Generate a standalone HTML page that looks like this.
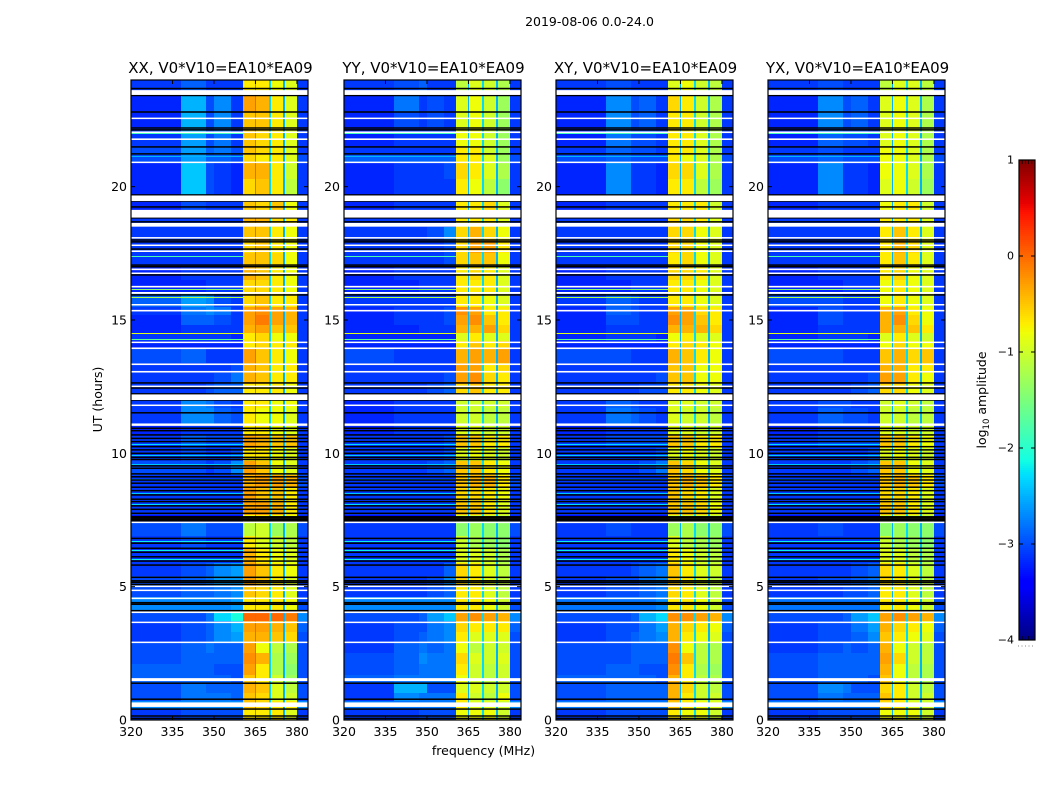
<!DOCTYPE html>
<html><head><meta charset="utf-8"><title>2019-08-06 0.0-24.0</title>
<style>
html,body{margin:0;padding:0;background:#fff}
svg{display:block;font-family:"DejaVu Sans","Liberation Sans",sans-serif}
</style></head>
<body>
<svg id="chart" xmlns="http://www.w3.org/2000/svg" width="1050" height="800" viewBox="0 0 1050 800">
<rect width="1050" height="800" fill="#fff"/>
<text x="589.500" y="26" text-anchor="middle" font-size="12.500" fill="#000">2019-08-06 0.0-24.0</text>
<text x="483.500" y="755" text-anchor="middle" font-size="12.500" fill="#000">frequency (MHz)</text>
<text transform="translate(102,399.500) rotate(-90)" text-anchor="middle" font-size="12.500" fill="#000">UT (hours)</text>
<text transform="translate(986,400) rotate(-90)" text-anchor="middle" font-size="12.500" fill="#000">log<tspan font-size="8.500" dy="3">10</tspan><tspan dy="-3"> amplitude</tspan></text>
<line x1="1018" x2="1035" y1="646" y2="646" stroke="#888" stroke-width="1" stroke-dasharray="1 2.500"/>
</svg>
<script>
const freqEdges = [320,338,347,350,356,360.6,364.7,365.3,370,370.8,375,375.8,380,384];
const timeEdges = [24,23.4,22.8,22.2,21.5,21.2,20.9,20.3,19.7,19,18.5,18,17.5,17,16.5,16,15.5,15.2,14.8,14.5,14.2,13.9,13.4,13,12.6,12.2,11.7,11.1,10.7,10.2,9.7,9.2,8.7,8.2,7.7,7.4,6.9,6.4,5.9,5.4,5,4.6,4.1,3.7,3.3,2.9,2.5,2.1,1.7,1.4,1,0.7,0.4,0];
const xTickLabels = [320,335,350,365,380];
const yTickLabels = [0,5,10,15,20];
const colorbarTicks = [1,0,-1,-2,-3,-4];
const panelTitles = ["XX, V0*V10=EA10*EA09","YY, V0*V10=EA10*EA09","XY, V0*V10=EA10*EA09","YX, V0*V10=EA10*EA09"];
const gapLevels = [15,17,15];
const edgeLevels = [9,9,9,9,9,10,9,9,9,9,9,9,9,9,9,9,9,9,9,9,9,9,9,9,9,9,9,9,9,9,9,10,9,9,8,10,9,9,9,9,9,10,13,11,10,10,10,10,10,10,10,13,9];
// Levels per time row: 10*(log10 amplitude)+40
const xxLow = [9,8,8,9,10,10,8,8,8,9,9,9,9,8,8,11,9,8,8,9,8,10,9,9,9,9,9,8,9,9,10,9,9,9,7,10,9,9,9,10,10,13,10,9,9,10,10,11,11,10,10,13,9];
const xxBlob = [11,15,15,14,14,14,16,16,10,9,9,9,9,9,8,14,12,11,9,9,8,11,9,9,9,13,13,9,11,10,10,9,9,9,7,12,10,9,10,11,11,13,10,10,10,11,11,11,11,12,12,13,10];
const xxMid = [9,10,10,10,11,11,10,10,9,9,9,9,9,9,9,13,13,11,9,9,8,9,9,9,10,12,13,9,10,9,9,9,9,9,7,10,9,9,11,12,11,13,12,11,11,12,11,11,11,11,12,13,10];
const xxHigh = [9,13,13,12,12,11,9,9,9,9,9,9,9,9,9,10,12,10,9,9,8,9,9,10,11,10,11,9,10,9,10,9,9,9,7,10,9,9,13,14,12,13,17,13,13,11,11,10,11,11,12,13,10];
const xxShoulder = [9,9,9,9,10,10,8,8,9,9,9,9,9,9,9,9,9,9,9,8,8,9,10,12,11,9,10,9,10,10,13,9,9,9,7,10,9,9,14,14,13,14,19,15,14,11,11,10,10,11,11,13,10];
const xxA = [33,37,35,35,35,34,36,34,35,36,35,34,35,36,34,34,37,37,36,33,33,37,36,36,33,33,33,33,37,33,37,36,37,37,32,29,33,36,37,37,35,33,40,37,36,37,38,37,35,36,35,35,33];
const xxB = [33,36,35,34,34,33,36,35,34,36,35,35,35,35,34,35,38,39,37,34,34,35,35,35,33,33,32,33,36,33,35,37,35,37,33,30,31,33,35,35,34,33,40,37,36,32,36,33,33,35,34,34,33];
const xxC = [32,33,33,33,33,33,33,33,35,34,33,33,34,33,33,33,37,37,35,32,33,33,33,33,33,32,32,32,35,32,32,37,35,36,32,27,30,32,33,33,33,33,40,36,35,29,28,28,30,31,31,33,33];
const xxD = [31,31,31,31,31,31,30,29,32,33,32,32,32,32,32,33,36,36,35,32,33,32,33,33,32,32,31,31,35,31,31,36,33,33,32,28,29,31,32,31,31,32,39,35,34,28,27,26,27,29,30,33,31];
const yyLow = [9,8,8,8,9,11,8,8,8,9,9,9,9,8,8,9,8,8,8,8,8,10,9,9,9,8,8,8,9,9,9,9,9,9,7,9,9,9,9,9,9,13,10,9,9,9,10,10,11,9,9,12,9];
const yyBlob = [10,12,10,9,9,11,9,9,9,9,9,9,9,9,8,9,9,9,8,8,8,9,9,9,9,9,9,9,9,9,9,9,9,9,7,9,9,9,9,9,9,13,10,10,10,11,11,11,12,15,13,12,9];
const yyMid = [11,9,9,9,9,11,9,9,9,9,9,9,9,9,9,9,9,9,9,8,8,9,9,9,9,9,9,9,9,9,9,9,9,9,7,9,9,9,9,9,9,13,11,10,11,12,13,12,12,15,12,12,10];
const yyHigh = [9,10,10,9,9,11,9,9,9,9,10,9,9,9,9,9,9,9,9,8,8,9,9,9,10,9,9,9,9,9,10,9,9,9,7,9,9,9,9,10,10,13,14,12,12,11,12,12,12,10,12,12,10];
const yyShoulder = [9,9,9,9,9,11,10,9,9,9,13,10,10,9,9,9,10,10,9,8,8,9,9,10,11,9,9,9,10,10,11,9,9,9,7,9,9,9,11,13,11,13,16,13,13,12,12,12,12,10,12,12,10];
const yyA = [29,31,31,32,33,33,34,33,33,33,34,34,34,33,33,33,38,37,36,31,33,36,37,37,34,30,30,31,35,31,35,35,34,35,30,26,30,31,34,34,33,33,37,34,33,32,34,33,32,31,33,33,32];
const yyB = [31,32,32,32,33,33,33,32,33,33,36,37,35,34,33,33,37,38,36,33,35,37,37,38,35,30,30,31,35,32,35,36,34,35,30,27,28,31,33,33,33,33,38,33,31,29,31,30,30,31,30,31,32];
const yyC = [30,30,30,30,30,31,31,29,34,33,34,37,35,33,33,32,33,35,37,31,33,36,33,34,33,30,29,30,33,31,33,36,33,33,30,26,27,30,31,31,31,32,37,33,31,30,30,29,29,30,29,31,32];
const yyD = [28,27,27,27,27,27,28,26,31,31,32,33,32,31,31,31,33,33,34,31,34,37,34,33,33,30,29,30,33,30,32,33,32,31,29,26,26,28,29,29,29,30,36,33,31,30,31,30,30,30,32,30,30];
const xyLow = [9,8,8,8,9,10,8,8,8,9,9,9,9,8,8,9,8,8,8,8,8,10,9,9,9,9,9,8,9,9,9,9,9,9,7,9,9,9,9,9,9,12,10,9,9,10,10,10,11,10,10,12,9];
const xyBlob = [10,13,13,12,11,11,13,13,9,9,9,9,9,9,8,11,11,10,9,9,8,10,9,9,9,11,12,9,10,9,9,9,9,9,7,10,9,9,9,10,10,12,10,10,10,10,10,11,11,11,11,12,10];
const xyMid = [9,10,10,10,10,10,9,9,9,9,9,9,9,9,9,10,10,10,9,9,8,9,9,9,9,10,11,9,10,9,9,9,9,9,7,9,9,9,10,10,10,12,11,10,11,11,11,11,11,11,11,12,10];
const xyHigh = [9,11,11,10,10,10,9,9,9,9,9,9,9,9,9,9,9,9,9,9,8,9,9,9,10,9,10,9,10,9,10,9,9,9,7,9,9,9,11,12,11,12,15,12,12,11,11,10,11,11,11,12,10];
const xyShoulder = [9,9,9,9,9,10,8,8,9,9,9,9,9,9,9,9,9,9,9,8,8,9,9,10,10,9,9,9,10,10,12,9,9,9,7,9,9,9,12,13,12,13,17,14,13,11,11,10,10,11,11,12,10];
const xyA = [31,34,33,33,33,33,34,33,33,34,34,34,33,34,33,33,37,38,36,32,33,36,35,35,33,31,31,31,35,31,35,35,35,35,30,27,31,33,35,35,34,33,38,36,36,38,39,38,36,36,36,35,33];
const xyB = [32,33,33,33,33,32,34,33,33,34,34,34,34,34,33,33,37,37,36,33,34,35,35,35,33,31,30,31,35,32,34,36,34,35,30,28,29,32,33,33,33,33,38,34,33,32,35,33,33,34,33,33,32];
const xyC = [30,30,30,31,31,31,31,29,33,33,32,32,32,33,32,32,34,35,36,31,33,33,32,32,32,30,30,30,33,31,32,35,33,34,30,26,28,30,31,31,31,32,37,33,32,29,29,28,29,30,30,32,32];
const xyD = [29,28,28,28,28,28,28,27,30,31,31,31,31,31,31,31,33,33,34,31,32,32,32,32,31,30,29,30,33,30,31,33,31,32,29,26,27,29,30,29,29,30,36,32,31,28,28,27,28,29,30,31,30];
const yxLow = [9,8,8,8,9,10,8,8,8,9,9,9,9,8,8,10,8,8,8,8,8,10,9,9,9,9,9,8,9,9,9,9,9,9,7,9,9,9,9,9,9,12,10,9,9,9,10,10,10,10,10,12,9];
const yxBlob = [10,13,13,11,10,11,13,13,9,9,9,9,9,9,8,10,10,10,9,9,8,10,9,9,9,10,11,9,10,9,9,9,9,9,7,10,9,9,9,10,9,12,10,10,10,10,11,11,11,13,12,12,10];
const yxMid = [9,10,10,10,9,10,9,9,9,9,9,9,9,9,9,9,9,9,9,9,8,9,9,9,9,10,10,9,10,9,9,9,9,9,7,9,9,9,9,10,10,12,11,10,10,11,11,11,11,12,11,12,10];
const yxHigh = [9,11,11,10,9,10,9,9,9,9,9,9,9,9,9,9,9,9,9,9,8,9,9,9,10,9,10,9,10,9,10,9,9,9,7,9,9,9,10,11,10,12,14,12,11,10,11,11,11,10,11,12,10];
const yxShoulder = [9,9,9,9,9,10,8,8,9,9,9,9,9,9,9,9,9,9,9,8,8,9,9,10,11,9,9,9,10,10,11,9,9,9,7,9,9,9,11,12,11,12,16,14,13,11,11,11,10,10,11,12,10];
const yxA = [29,31,31,31,32,32,32,31,32,33,33,33,33,33,32,32,36,36,36,31,32,35,36,37,34,30,30,31,35,31,35,35,34,35,30,26,30,31,34,34,33,33,37,36,35,36,37,36,35,34,35,34,32];
const yxB = [31,32,32,32,32,32,32,32,33,33,35,36,35,34,33,33,37,38,36,33,34,36,36,37,34,31,30,31,35,32,35,36,34,35,30,27,28,31,33,33,33,33,38,34,33,32,34,32,32,33,33,33,32];
const yxC = [31,31,31,31,31,31,31,30,33,33,33,34,33,32,32,32,33,34,35,31,32,34,33,33,32,30,29,30,33,31,32,35,33,33,30,26,27,29,31,31,31,32,37,33,32,30,30,29,29,30,30,31,32];
const yxD = [29,28,28,28,28,28,28,27,30,31,31,31,31,31,31,31,32,32,33,30,32,35,33,32,31,29,29,30,32,30,31,33,31,31,29,26,26,28,29,29,29,30,36,32,31,29,29,28,28,29,30,30,30];
// Flagged (blank) time ranges, hours
const flaggedStart = [23.62,22.59,22.07,21.81,20.94,19.67,19.13,18.64,18.11,17.83,17.61,16.93,16.78,16.28,16.05,15.6,15.38,14.19,13.97,13.37,13.09,12.54,12.21,11.83,11.12,7.44,5.04,4.89,4.59,4.07,3.69,2.94,1.57,0.66];
const flaggedEnd = [23.44,22.54,22.01,21.75,20.89,19.46,18.84,18.50,18.06,17.78,17.55,16.87,16.73,16.22,15.98,15.56,15.32,14.14,13.91,13.31,13.03,12.49,12.0,11.78,11.03,7.39,4.99,4.84,4.54,4.01,3.64,2.89,1.46,0.49];
// Zero-amplitude integrations, hours
const blackHours = [23.68,23.42,22.8,22.2,22.13,21.49,21.23,19.69,19.46,19.24,18.83,18.68,18.0,17.93,17.66,17.06,17.0,16.69,15.94,12.64,12.45,12.23,12.0,11.52,10.94,10.85,10.69,10.56,10.44,10.25,10.13,10.0,9.85,9.77,9.53,9.44,9.23,9.12,9.0,8.88,8.73,8.6,8.44,8.28,8.19,8.03,7.9,7.75,7.62,7.57,7.52,7.47,6.81,6.63,6.44,6.29,6.12,5.96,5.81,5.35,5.22,5.16,5.08,4.4,4.34,4.1,1.38,0.78,0.41,0.15,0.06];
// Interference stripes below 360 MHz
const stripeHours = [22.0,21.15,17.4,16.16,15.87,14.5,14.3,10.35,9.95,9.6,9.05,8.5,8.1,6.72,6.38,6.05];
const stripeLevels = [21,15,22,26,28,31,23,17,16,16,17,16,17,18,18,18];

const svg = document.getElementById('chart');
const NS = 'http://www.w3.org/2000/svg';
const panelLefts = [131,344,556,768];
const panelW = 177, plotTop = 80, plotH = 640;
function xScale(left, mhz){ return left + (mhz-320)/64*panelW; }
function yScale(h){ return plotTop + (24-h)/24*plotH; }
function ramp(t,pts){ for(let i=1;i<pts.length;i++){ if(t<=pts[i][0]){ const a=pts[i-1],b=pts[i]; return a[1]+(b[1]-a[1])*(t-a[0])/(b[0]-a[0]); } } return pts[pts.length-1][1]; }
function jet(level){
  const t=Math.max(0,Math.min(1,level/50));
  const r=ramp(t,[[0,0],[.35,0],[.66,1],[.89,1],[1,.5]]);
  const g=ramp(t,[[0,0],[.125,0],[.375,1],[.64,1],[.91,0],[1,0]]);
  const b=ramp(t,[[0,.5],[.11,1],[.34,1],[.65,0],[1,0]]);
  return 'rgb('+Math.round(r*255)+','+Math.round(g*255)+','+Math.round(b*255)+')';
}
function mk(tag,attrs,parent){ const e=document.createElementNS(NS,tag); for(const k in attrs) e.setAttribute(k,attrs[k]); parent.appendChild(e); return e; }
const panels=[
  [xxLow,xxBlob,xxMid,xxHigh,xxShoulder,xxA,null,xxB,null,xxC,null,xxD,edgeLevels],
  [yyLow,yyBlob,yyMid,yyHigh,yyShoulder,yyA,null,yyB,null,yyC,null,yyD,edgeLevels],
  [xyLow,xyBlob,xyMid,xyHigh,xyShoulder,xyA,null,xyB,null,xyC,null,xyD,edgeLevels],
  [yxLow,yxBlob,yxMid,yxHigh,yxShoulder,yxA,null,yxB,null,yxC,null,yxD,edgeLevels]
];
const panelKeys=['xx','yy','xy','yx'];
const gapColumnIndex={6:0,8:1,10:2};
panels.forEach(function(columns,p){
  const left=panelLefts[p];
  const g=mk('g',{'shape-rendering':'crispEdges'},svg);
  
  
  columns.forEach(function(col,c){
    const x0=Math.round(xScale(left,freqEdges[c])), x1=Math.round(xScale(left,freqEdges[c+1]));
    for(let r=0;r<timeEdges.length-1;r++){
      const y0=Math.round(yScale(timeEdges[r])), y1=Math.round(yScale(timeEdges[r+1]));
      const v=col?col[r]:gapLevels[gapColumnIndex[c]];
      const cell=mk('rect',{x:x0,y:y0,width:Math.max(1,x1-x0),height:y1-y0,fill:jet(v)},g);
      
      
    }
  });
  stripeHours.forEach(function(h,i){
    const st=mk('rect',{x:left,y:Math.round(yScale(h)),width:Math.round(xScale(left,360.6))-left,height:1,fill:jet(stripeLevels[i])},g);
    
    
  });
  blackHours.forEach(function(h){
    const bl=mk('rect',{x:left,y:yScale(h)-0.75,width:panelW,height:1.5,fill:'#000'},svg);
    
    
  });
  flaggedStart.forEach(function(h,i){
    const y0=yScale(h),y1=yScale(flaggedEnd[i]);
    const fl=mk('rect',{x:left,y:y0,width:panelW,height:Math.max(1.5,y1-y0),fill:'#fff'},svg);
    
    
  });
  const frame=mk('rect',{x:left,y:plotTop,width:panelW,height:plotH,fill:'none',stroke:'#000','stroke-width':1.2},svg);
  
  
  const title=mk('text',{x:left+panelW/2+1,y:73,'text-anchor':'middle','font-size':15,fill:'#000'},svg);
  title.textContent=panelTitles[p];
  
  
  xTickLabels.forEach(function(v){
    const x=xScale(left,v);
    const t1=mk('line',{x1:x,x2:x,y1:720,y2:716,stroke:'#000'},svg);
    
    
    const t2=mk('line',{x1:x,x2:x,y1:80,y2:84,stroke:'#000'},svg);
    
    
    const l=mk('text',{x:x,y:736,'text-anchor':'middle','font-size':12.5,fill:'#000'},svg);
    l.textContent=v;
    
    
  });
  yTickLabels.forEach(function(v){
    const y=yScale(v);
    const t1=mk('line',{x1:left,x2:left+4,y1:y,y2:y,stroke:'#000'},svg);
    
    
    const t2=mk('line',{x1:left+panelW,x2:left+panelW-4,y1:y,y2:y,stroke:'#000'},svg);
    
    
    const l=mk('text',{x:left-4,y:y+4.5,'text-anchor':'end','font-size':12.5,fill:'#000'},svg);
    l.textContent=v;
    
    
  });
});
// Colorbar
const cbX=1019,cbW=16,cbTop=160,cbH=480;
const cbG=mk('g',{'shape-rendering':'crispEdges'},svg);


for(let i=0;i<240;i++){
  const sw=mk('rect',{x:cbX,y:cbTop+i*2,width:cbW,height:2,fill:jet(50*(1-(i+.5)/240))},cbG);
  
  
}
const cbFrame=mk('rect',{x:cbX,y:cbTop,width:cbW,height:cbH,fill:'none',stroke:'#000','stroke-width':1.2},svg);


for(let i=1;i<5;i++){
  const mx=cbX+i*cbW/5;
  const minorTop=mk('line',{x1:mx,x2:mx,y1:cbTop,y2:cbTop+4,stroke:'#000','stroke-width':.7},svg);
  
  
  const minorBottom=mk('line',{x1:mx,x2:mx,y1:cbTop+cbH,y2:cbTop+cbH-4,stroke:'#000','stroke-width':.7},svg);
  
  
}
colorbarTicks.forEach(function(v){
  const y=cbTop+(1-v)/5*cbH;
  const a=mk('line',{x1:cbX,x2:cbX+4,y1:y,y2:y,stroke:'#000'},svg);
  
  
  const b=mk('line',{x1:cbX+cbW,x2:cbX+cbW-4,y1:y,y2:y,stroke:'#000'},svg);
  
  
  const l=mk('text',{x:cbX-5,y:y+3.5,'text-anchor':'end','font-size':11,fill:'#000'},svg);
  l.textContent=(v<0?'\u2212':'')+Math.abs(v);
  
  
});
</script>
</body></html>
